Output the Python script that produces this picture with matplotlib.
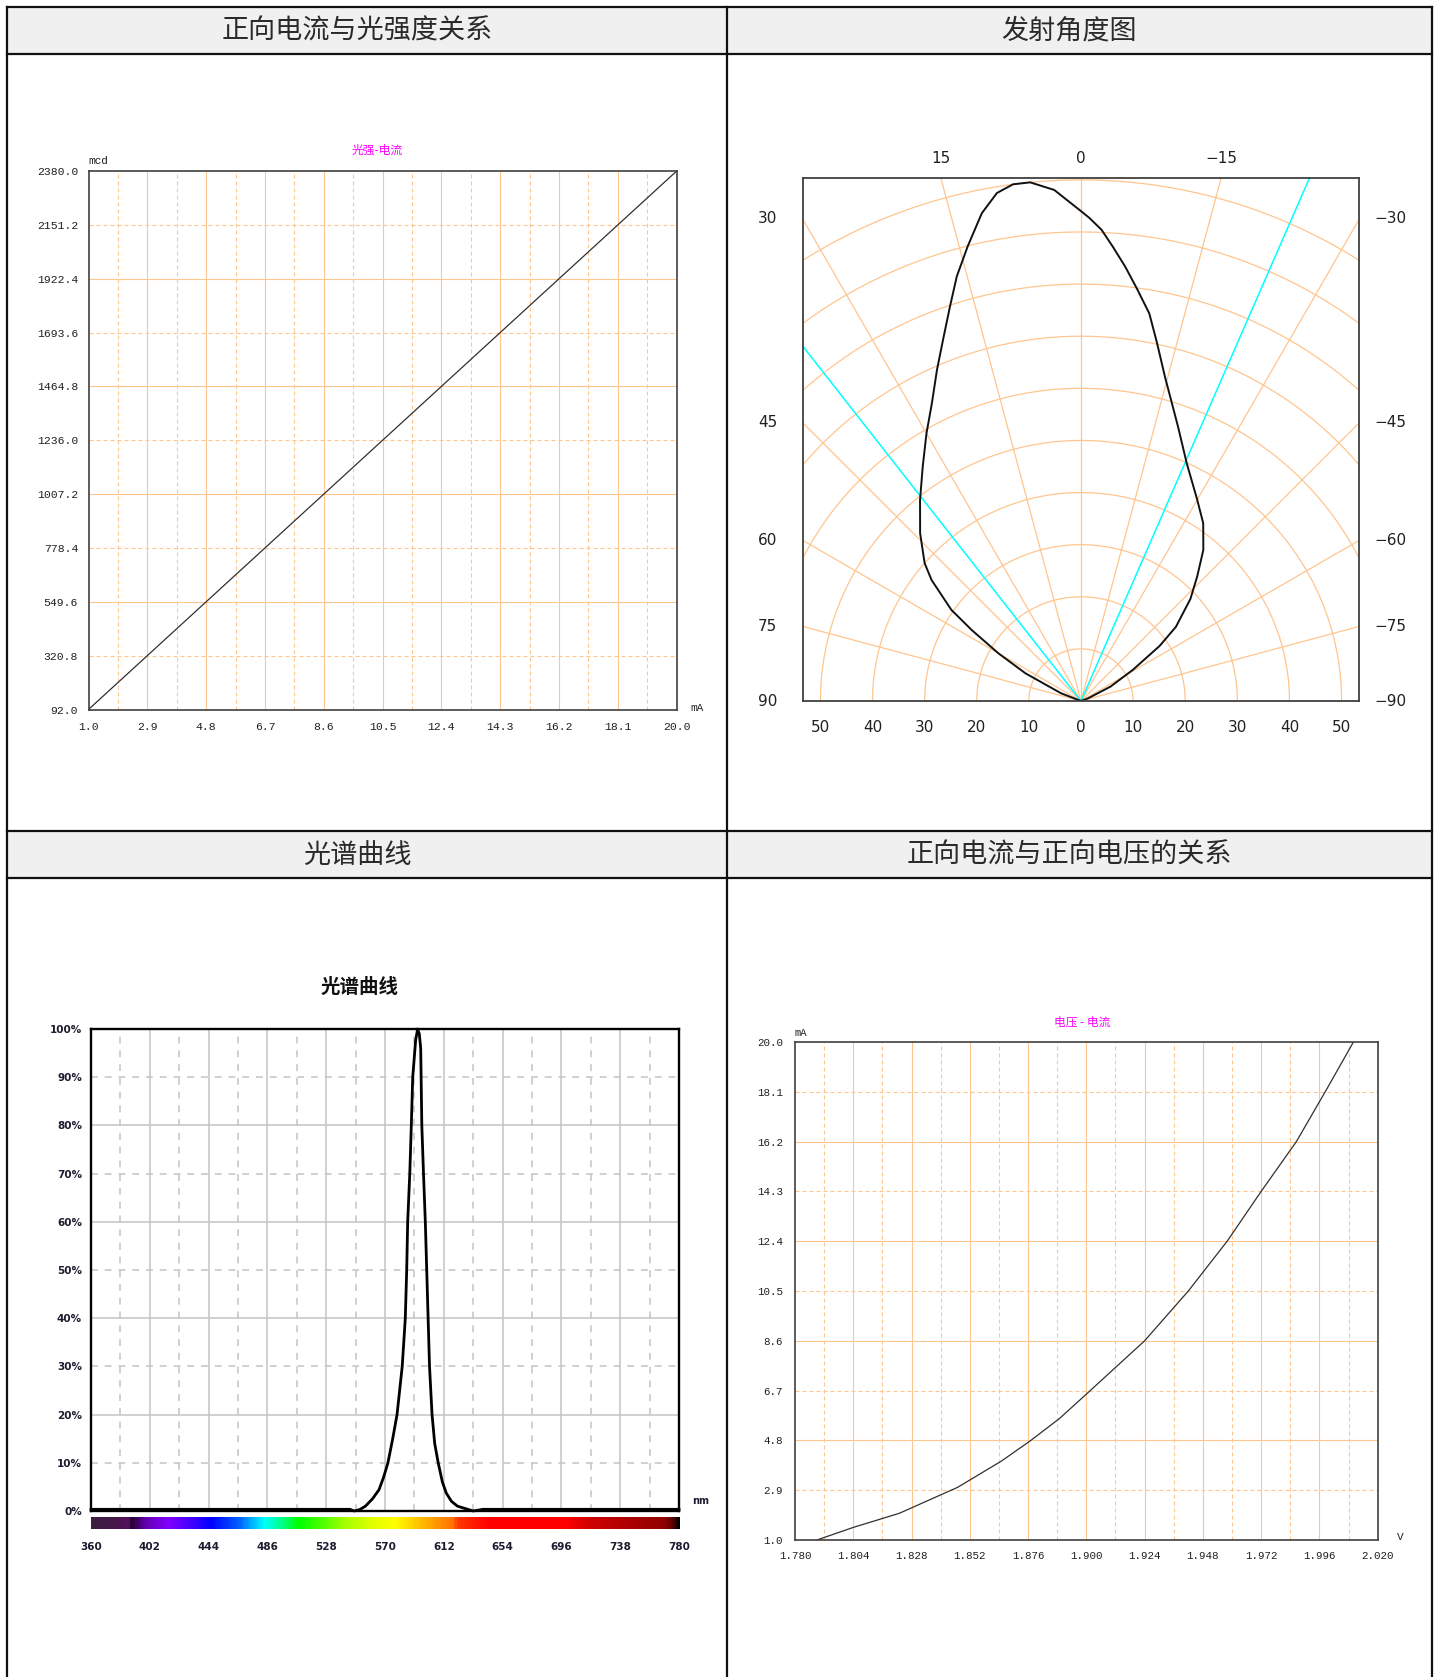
import numpy as np
import matplotlib
matplotlib.use("Agg")
import matplotlib.pyplot as plt
from matplotlib.colors import LinearSegmentedColormap
from matplotlib.patches import Rectangle

W, H = 1440, 1677
plt.rcParams['font.family'] = ['Noto Sans CJK SC', 'DejaVu Sans']

# ---- 正向电流与光强度关系 ----
li_xticks = [1.0, 2.9, 4.8, 6.7, 8.6, 10.5, 12.4, 14.3, 16.2, 18.1, 20.0]
li_yticks = [92.0, 320.8, 549.6, 778.4, 1007.2, 1236.0, 1464.8, 1693.6, 1922.4, 2151.2, 2380.0]
li_current = [1.0, 20.0]
li_intensity = [92.0, 2380.0]

# ---- 发射角度图 ----
beam_angle = [-72, -69, -64, -59, -55, -52, -47, -43, -39, -34.5, -30, -24, -19.5,
              -17, -14.5, -12, -10, -7.7, -5.8, -4, -2.5, -1, 0, 3, 5.6, 7.5, 9.4,
              11.5, 14, 16.3, 18.4, 20.9, 23.5, 26.6, 30, 34, 38.7, 43.8, 48.6, 51,
              54.9, 57, 60, 63.5, 68.8, 72]
beam_rel = [0, 1.5, 6.3, 11.6, 18.4, 23.1, 28.7, 32.7, 37.3, 41.4, 44.6, 49.9, 55.8,
            59.7, 64.3, 70.2, 75.5, 79.9, 83.8, 87.4, 90.5, 92.7, 94.0, 98.2, 100, 100,
            98.8, 95.5, 89.9, 84.9, 79.7, 74.2, 69.3, 63.9, 59.3, 54.3, 49.4, 44.6, 40.0,
            36.9, 30.4, 25.0, 18.3, 11.9, 4.1, 0]
half_angles = [38.1, -23.6]
polar_rings = [10, 20, 30, 40, 50, 60, 70, 80, 90, 100]
polar_rays = [-75, -60, -45, -30, -15, 0, 15, 30, 45, 60, 75]
polar_top_labels = [15, 0, -15]
polar_side_labels = [30, 45, 60, 75, 90]
polar_bottom_labels = [50, 40, 30, 20, 10, 0, 10, 20, 30, 40, 50]
polar_bottom_pos = [-50, -40, -30, -20, -10, 0, 10, 20, 30, 40, 50]

# ---- 光谱曲线 ----
spec_xticks = [360, 402, 444, 486, 528, 570, 612, 654, 696, 738, 780]
spec_yticks = [0, 10, 20, 30, 40, 50, 60, 70, 80, 90, 100]
spec_wl = [360, 420, 480, 545, 548, 552, 556, 561, 565.7, 569, 572.1, 575.5, 578.6,
           582.3, 584.5, 585.5, 586.2, 587.7, 588.8, 589.8, 591.9, 593.3, 594.5,
           595.5, 595.8, 596.3, 597.5, 598.8, 599.8, 600.8, 601.8, 603.6, 605.5,
           608, 611, 613.8, 617.5, 621.8, 633, 640, 700, 780]
spec_val = [0.35, 0.35, 0.35, 0.35, 0.0, 0.3, 1.0, 2.5, 4.4, 7.0, 10, 15, 20,
            30, 40, 50, 60, 70, 80, 90, 97.7, 100, 99,
            96, 90, 80, 70, 60, 50, 40, 30, 20, 14,
            10, 6, 3.7, 2.0, 1.0, 0.0, 0.35, 0.35, 0.35]
bar_wl = [360, 380, 386, 388, 400, 415, 435, 445, 465, 483, 495, 508, 525, 540,
          560, 577, 592, 606, 619, 621, 644, 700, 716, 770, 776, 780]
bar_col = ['#3c2040', '#4a1450', '#5a1060', '#2a0035', '#6a00c0', '#8000ff', '#3000ff',
           '#0000ff', '#0060ff', '#00ffff', '#00ff90', '#00ff00', '#50ff00', '#a0ff00',
           '#e0ff00', '#ffff00', '#ffc800', '#ff9a00', '#ff7000', '#ff3a00', '#ff0000',
           '#ff0000', '#d00000', '#900000', '#600000', '#000000']

# ---- 正向电流与正向电压 ----
iv_xticks = [1.780, 1.804, 1.828, 1.852, 1.876, 1.900, 1.924, 1.948, 1.972, 1.996, 2.020]
iv_yticks = [1.0, 2.9, 4.8, 6.7, 8.6, 10.5, 12.4, 14.3, 16.2, 18.1, 20.0]
iv_voltage = [1.789, 1.804, 1.823, 1.847, 1.865, 1.877, 1.889, 1.901, 1.924, 1.942,
              1.958, 1.972, 1.9865, 1.999, 2.010]
iv_current = [1.0, 1.48, 2.02, 3.01, 4.01, 4.79, 5.64, 6.65, 8.6, 10.5,
              12.4, 14.3, 16.2, 18.2, 20.0]

OR = '#ffc58f'
DASH = (0, (3.6, 2.7))
MONO = 'Liberation Mono'

fig = plt.figure(figsize=(W / 100, H / 100), dpi=100)


def box(l, t, r, b):
    return fig.add_axes([l / W, 1 - b / H, (r - l) / W, (b - t) / H])


def ptext(x, y, s, **kw):
    fig.text(x / W, 1 - y / H, s, **kw)


# table frame
bg = fig.add_axes([0, 0, 1, 1], zorder=-5)
bg.set_xlim(0, W)
bg.set_ylim(H, 0)
bg.axis('off')
for y0 in (7, 831):
    bg.add_patch(Rectangle((7, y0), 1425, 47, fc='#f0f0f0', ec='none'))
for y0 in (7, 54, 831, 878):
    bg.plot([7, 1432], [y0, y0], color='#111111', lw=1.6)
for x0 in (7, 727, 1432):
    bg.plot([x0, x0], [7, H], color='#111111', lw=1.6)

hfont = dict(fontsize=19.5, color='#2a2a2a', ha='center', va='center')
ptext(357, 31, '正向电流与光强度关系', **hfont)
ptext(1069, 31, '发射角度图', **hfont)
ptext(357, 855, '光谱曲线', **hfont)
ptext(1069, 855, '正向电流与正向电压的关系', **hfont)


def orange_grid(ax, xt, yt):
    for v in xt[1:-1]:
        ax.axvline(v, color=OR, lw=0.8, zorder=1)
    for a, b in zip(xt[:-1], xt[1:]):
        ax.axvline((a + b) / 2, color=OR, lw=0.8, ls=DASH, zorder=1)
    for i, v in enumerate(yt[1:-1], start=1):
        ax.axhline(v, color=OR, lw=0.8, ls='-' if i % 2 == 0 else DASH, zorder=1)


def style_box(ax, color='#404040', lw=1.2):
    for s in ax.spines.values():
        s.set_color(color)
        s.set_linewidth(lw)
        s.set_zorder(5)


# ---- panel 1 ----
ax1 = box(88.5, 171, 676.7, 709.5)
ax1.set_xlim(li_xticks[0], li_xticks[-1])
ax1.set_ylim(li_yticks[0], li_yticks[-1])
orange_grid(ax1, li_xticks, li_yticks)
ax1.plot(li_current, li_intensity, color='#303030', lw=0.9, zorder=3)
ax1.set_xticks(li_xticks, labels=['%.1f' % v for v in li_xticks])
ax1.set_yticks(li_yticks, labels=['%.1f' % v for v in li_yticks])
ax1.tick_params(length=0, labelsize=8.2, colors='#202020')
ax1.tick_params(axis='x', pad=9)
ax1.tick_params(axis='y', pad=7.5)
for lab in ax1.get_xticklabels() + ax1.get_yticklabels():
    lab.set_fontfamily(MONO)
style_box(ax1)
ptext(377, 150, '光强-电流', fontsize=8.5, color='#ff00ff', ha='center', va='center')
ptext(88, 161, 'mcd', fontsize=8, family=MONO, color='#202020', ha='left', va='center')
ptext(690, 708, 'mA', fontsize=8, family=MONO, color='#202020', ha='left', va='center')

# ---- panel 2 ----
ax2 = box(802.7, 178.3, 1359.3, 701)
ax2.set_xlim(-53.4, 53.4)
ax2.set_ylim(0, 100.3)
ax2.set_xticks([])
ax2.set_yticks([])
t = np.linspace(0, np.pi, 400)
for r in polar_rings:
    ax2.plot(r * np.cos(t), r * np.sin(t), color=OR, lw=0.9, zorder=1)
for a in polar_rays:
    ar = np.radians(a)
    ax2.plot([0, -200 * np.sin(ar)], [0, 200 * np.cos(ar)], color=OR, lw=0.9, zorder=1)
for a in half_angles:
    ar = np.radians(a)
    ax2.plot([0, -200 * np.sin(ar)], [0, 200 * np.cos(ar)], color='#00ffff', lw=1.1, zorder=2)
ba = np.radians(beam_angle)
br = np.array(beam_rel)
ax2.plot(-br * np.sin(ba), br * np.cos(ba), color='#111111', lw=1.4, zorder=3)
style_box(ax2, lw=1.3)
pfont = dict(fontsize=11, color='#202020', ha='center', va='center', family='DejaVu Sans')
for a in polar_top_labels:
    ax2.text(-100.3 * np.tan(np.radians(a)), 104.1, str(a).replace('-', '\u2212'),
             clip_on=False, **pfont)
for a in polar_side_labels:
    yy = 53.4 / np.tan(np.radians(a))
    ax2.text(-60.1, yy, str(a), clip_on=False, **pfont)
    ax2.text(59.4, yy, '\u2212' + str(a), clip_on=False, **pfont)
for p, s in zip(polar_bottom_pos, polar_bottom_labels):
    ax2.text(p, -5.1, str(s), clip_on=False, **pfont)

# ---- panel 3 ----
ax3 = box(91, 1029, 679, 1511)
ax3.set_xlim(spec_xticks[0], spec_xticks[-1])
ax3.set_ylim(spec_yticks[0], spec_yticks[-1])
GR = '#c4c4c4'
GD = (0, (4.5, 4.5))
for v in spec_xticks[1:-1]:
    ax3.axvline(v, color=GR, lw=1.1, zorder=1)
for a, b in zip(spec_xticks[:-1], spec_xticks[1:]):
    ax3.axvline((a + b) / 2, color=GR, lw=1.1, ls=GD, zorder=1)
for i, v in enumerate(spec_yticks[1:-1], start=1):
    ax3.axhline(v, color=GR, lw=1.1, ls='-' if i % 2 == 0 else GD, zorder=1)
ax3.plot(spec_wl, spec_val, color='#000000', lw=2.0, zorder=3, clip_on=False)
ax3.set_xticks(spec_xticks, labels=[str(v) for v in spec_xticks])
ax3.set_yticks(spec_yticks, labels=['%d%%' % v for v in spec_yticks])
ax3.tick_params(length=0, labelsize=7.5, colors='#1c1c30')
ax3.tick_params(axis='x', pad=22)
ax3.tick_params(axis='y', pad=6.5)
for lab in ax3.get_xticklabels() + ax3.get_yticklabels():
    lab.set_fontfamily('DejaVu Sans')
    lab.set_fontweight('bold')
style_box(ax3, color='#000000', lw=1.7)
ptext(360, 987, '光谱曲线', fontsize=14, fontweight='bold', color='#111111',
      ha='center', va='center')
ptext(692, 1501, 'nm', fontsize=7, fontweight='bold', family='DejaVu Sans',
      color='#1c1c30', ha='left', va='center')

cb = box(91, 1517.3, 680, 1529)
stops = [(w - bar_wl[0]) / (bar_wl[-1] - bar_wl[0]) for w in bar_wl]
cmap = LinearSegmentedColormap.from_list('spec', list(zip(stops, bar_col)))
cb.imshow(np.linspace(0, 1, 600)[None, :], cmap=cmap, aspect='auto',
          extent=[bar_wl[0], bar_wl[-1], 0, 1])
cb.axis('off')

# ---- panel 4 ----
ax4 = box(795, 1042, 1377.7, 1540)
ax4.set_xlim(iv_xticks[0], iv_xticks[-1])
ax4.set_ylim(iv_yticks[0], iv_yticks[-1])
orange_grid(ax4, iv_xticks, iv_yticks)
ax4.plot(iv_voltage, iv_current, color='#303030', lw=0.9, zorder=3)
ax4.set_xticks(iv_xticks, labels=['%.3f' % v for v in iv_xticks])
ax4.set_yticks(iv_yticks, labels=['%.1f' % v for v in iv_yticks])
ax4.tick_params(length=0, labelsize=7.8, colors='#202020')
ax4.tick_params(axis='x', pad=8)
ax4.tick_params(axis='y', pad=8.6)
for lab in ax4.get_xticklabels() + ax4.get_yticklabels():
    lab.set_fontfamily(MONO)
style_box(ax4)
ptext(1082, 1022.5, '电压 - 电流', fontsize=8.5, color='#ff00ff', ha='center', va='center')
ptext(795, 1033, 'mA', fontsize=7.5, family=MONO, color='#202020', ha='left', va='center')
ptext(1397, 1537, 'V', fontsize=8, family=MONO, color='#202020', ha='left', va='center')

fig.savefig('out.png', dpi=100)
